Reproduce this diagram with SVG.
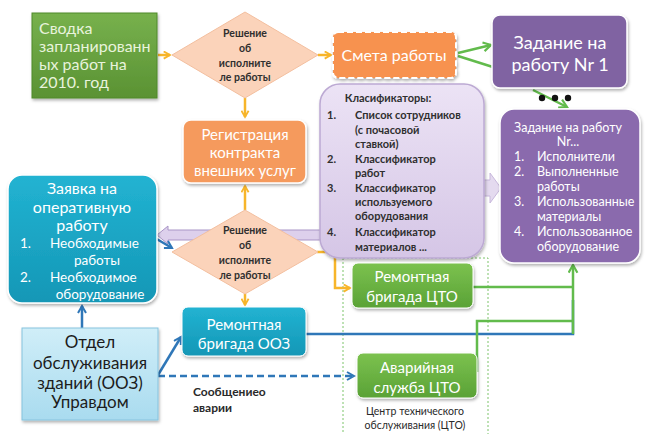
<svg xmlns="http://www.w3.org/2000/svg" width="647" height="434" viewBox="0 0 647 434">
<style>
text{font-family:Lato,"Open Sans","Noto Sans",sans-serif}
.w{fill:#ffffff}
.c{text-anchor:middle}
.dk{fill:#2f2f2f;font-weight:bold}
.yl{stroke:#f7b52a;stroke-width:2.5;fill:none}
.bl{stroke:#2f77b8;stroke-width:2.5;fill:none}
.gl{stroke:#62bb4c;stroke-width:2.5;fill:none}
</style>
<defs>
<filter id="sh" x="-10%" y="-10%" width="125%" height="130%"><feDropShadow dx="1" dy="2" stdDeviation="1.5" flood-color="#000" flood-opacity="0.3"/></filter>
<linearGradient id="gG" x1="0" y1="0" x2="0" y2="1"><stop offset="0" stop-color="#77b14d"/><stop offset="1" stop-color="#5a9233"/></linearGradient>
<linearGradient id="gC" x1="0" y1="0" x2="0" y2="1"><stop offset="0" stop-color="#7cc24f"/><stop offset="1" stop-color="#5aa236"/></linearGradient>
<linearGradient id="gT" x1="0" y1="0" x2="0" y2="1"><stop offset="0" stop-color="#22b3d2"/><stop offset="1" stop-color="#1497b6"/></linearGradient>
<linearGradient id="gL" x1="0" y1="0" x2="0" y2="1"><stop offset="0" stop-color="#d0eef8"/><stop offset="1" stop-color="#a9dbef"/></linearGradient>
<linearGradient id="gV" x1="0" y1="0" x2="0" y2="1"><stop offset="0" stop-color="#ece3f5"/><stop offset="1" stop-color="#d5c6e6"/></linearGradient>
<marker id="ay" viewBox="0 0 10 10" refX="8" refY="5" markerWidth="9" markerHeight="9" markerUnits="userSpaceOnUse" orient="auto"><path d="M1,1 L8,5 L1,9" fill="none" stroke="#f7b52a" stroke-width="2"/></marker>
<marker id="ab" viewBox="0 0 10 10" refX="8" refY="5" markerWidth="10" markerHeight="10" markerUnits="userSpaceOnUse" orient="auto"><path d="M1,1 L8,5 L1,9" fill="none" stroke="#2f77b8" stroke-width="2"/></marker>
<marker id="ag" viewBox="0 0 10 10" refX="8" refY="5" markerWidth="11" markerHeight="11" markerUnits="userSpaceOnUse" orient="auto"><path d="M1,1 L8,5 L1,9" fill="none" stroke="#62bb4c" stroke-width="2"/></marker>
</defs>
<rect width="647" height="434" fill="#ffffff"/>

<g id="connectors">
<rect x="343" y="258" width="145" height="190" fill="none" stroke="#7dc46a" stroke-width="1" stroke-dasharray="2,2"/>
<polygon points="157,235 168,226 168,230 330,230 330,240 168,240 168,244" fill="#ddd0ec" stroke="#a995c6" stroke-width="1"/>
<polygon points="482,180 490,180 490,173 501,188 490,203 490,196 482,196" fill="#e4daef" stroke="#c8b8dc" stroke-width="1"/>
<path class="yl" d="M158,55 L170,55" marker-end="url(#ay)"/>
<path class="yl" d="M318,55 L331,55" marker-end="url(#ay)"/>
<path class="yl" d="M245,98 L245,117" marker-end="url(#ay)"/>
<path class="yl" d="M245,210 L245,186" marker-end="url(#ay)"/>
<path class="yl" d="M245,294 L245,305" marker-end="url(#ay)"/>
<path class="yl" d="M317,252 L335,252 L335,288 L350,288" marker-end="url(#ay)"/>
<path class="gl" d="M458,53 L491,45" marker-end="url(#ag)"/>
<path class="gl" d="M458,56 L496,68"/>
<path class="gl" d="M533,90 L567,107" marker-end="url(#ag)"/>
<path class="bl" d="M155,238 L172,248" marker-end="url(#ab)"/>
<path class="bl" d="M82,328 L82,306" marker-end="url(#ab)"/>
<path class="bl" d="M158,375 L181,337" marker-end="url(#ab)"/>
<path class="bl" d="M158,376 L354,376" stroke-dasharray="7,4" marker-end="url(#ab)"/>
<path class="bl" d="M305,334 L573,334 L573,300"/>
<path class="gl" d="M473,287 L573,287"/>
<path class="gl" d="M477,372 L477,321 L573,321"/>
<path class="gl" d="M573,334 L573,265" marker-end="url(#ag)"/>
<circle cx="542" cy="98" r="3.2" fill="#111"/>
<circle cx="555" cy="98" r="3.2" fill="#111"/>
<circle cx="568" cy="98" r="3.2" fill="#111"/>
</g>

<g id="svodka">
<rect x="32" y="13" width="125" height="85" fill="url(#gG)" stroke="#4f8a2a" stroke-width="1" filter="url(#sh)"/>
<text x="39" y="34" font-size="16" fill="#e8f3dc">Сводка</text>
<text x="39" y="52" font-size="16" fill="#e8f3dc">запланированн</text>
<text x="39" y="70" font-size="16" fill="#e8f3dc">ых работ на</text>
<text x="39" y="88" font-size="16" fill="#e8f3dc">2010. год</text>
</g>

<g id="decision1">
<polygon points="245,12 318,55 245,98 172,55" fill="#fbd3ba" stroke="#f3bf9f" stroke-width="1"/>
<text class="c dk" x="245" y="37" font-size="10.5">Решение</text>
<text class="c dk" x="245" y="52" font-size="10.5">об</text>
<text class="c dk" x="245" y="67" font-size="10.5">исполните</text>
<text class="c dk" x="245" y="81" font-size="10.5">ле работы</text>
</g>

<g id="smeta">
<rect x="333" y="32" width="123" height="46" rx="5" fill="#f7924f" stroke="#ffffff" stroke-width="2" stroke-dasharray="6,3" filter="url(#sh)"/>
<text class="c w" x="394" y="61" font-size="16">Смета работы</text>
</g>

<g id="zadanie1">
<rect x="492" y="15" width="135" height="73" rx="8" fill="#8064a2" stroke="#ffffff" stroke-width="1.5" filter="url(#sh)"/>
<text class="c w" x="560" y="49" font-size="18">Задание на</text>
<text class="c w" x="560" y="71" font-size="18">работу Nr 1</text>
</g>

<g id="registracia">
<rect x="183" y="120" width="123" height="63" rx="8" fill="#f59a5d" stroke="#ffffff" stroke-width="1.5" filter="url(#sh)"/>
<text class="c w" x="245" y="140" font-size="15">Регистрация</text>
<text class="c w" x="245" y="158" font-size="15">контракта</text>
<text class="c w" x="245" y="176" font-size="15">внешних услуг</text>
</g>

<g id="klassifikatory">
<rect x="320" y="84" width="164" height="174" rx="20" fill="url(#gV)" stroke="#bca9d3" stroke-width="1.5" filter="url(#sh)"/>
<text class="c dk" x="388" y="102" font-size="11">Класификаторы:</text>
<text class="dk" x="327" y="119" font-size="11">1.</text>
<text class="dk" x="355" y="119" font-size="11">Список сотрудников</text>
<text class="dk" x="355" y="134" font-size="11">(с почасовой</text>
<text class="dk" x="355" y="148" font-size="11">ставкой)</text>
<text class="dk" x="327" y="163" font-size="11">2.</text>
<text class="dk" x="355" y="163" font-size="11">Классификатор</text>
<text class="dk" x="355" y="177" font-size="11">работ</text>
<text class="dk" x="327" y="192" font-size="11">3.</text>
<text class="dk" x="355" y="192" font-size="11">Классификатор</text>
<text class="dk" x="355" y="206" font-size="11">используемого</text>
<text class="dk" x="355" y="220" font-size="11">оборудования</text>
<text class="dk" x="327" y="236" font-size="11">4.</text>
<text class="dk" x="355" y="236" font-size="11">Классификатор</text>
<text class="dk" x="355" y="251" font-size="11">материалов ...</text>
</g>

<g id="zadanieN">
<rect x="500" y="109" width="140" height="154" rx="14" fill="#8a6aad" stroke="#ffffff" stroke-width="1.5" filter="url(#sh)"/>
<text class="c w" x="568" y="132" font-size="12.5">Задание на работу</text>
<text class="c w" x="568" y="146" font-size="12.5">Nr...</text>
<text class="w" x="514" y="161" font-size="12.5">1.</text>
<text class="w" x="537" y="161" font-size="12.5">Исполнители</text>
<text class="w" x="514" y="176" font-size="12.5">2.</text>
<text class="w" x="537" y="176" font-size="12.5">Выполненные</text>
<text class="w" x="537" y="191" font-size="12.5">работы</text>
<text class="w" x="514" y="206" font-size="12.5">3.</text>
<text class="w" x="537" y="206" font-size="12.5">Использованные</text>
<text class="w" x="537" y="221" font-size="12.5">материалы</text>
<text class="w" x="514" y="236" font-size="12.5">4.</text>
<text class="w" x="537" y="236" font-size="12.5">Использованное</text>
<text class="w" x="537" y="251" font-size="12.5">оборудование</text>
</g>

<g id="zayavka">
<rect x="8" y="175" width="149" height="128" rx="14" fill="url(#gT)" stroke="#ffffff" stroke-width="1.5" filter="url(#sh)"/>
<text class="c w" x="82" y="194" font-size="16">Заявка на</text>
<text class="c w" x="82" y="213" font-size="16">оперативную</text>
<text class="c w" x="82" y="231" font-size="16">работу</text>
<text class="w" x="20" y="248" font-size="13.5">1.</text>
<text class="w" x="50" y="248" font-size="13.5">Необходимые</text>
<text class="c w" x="97" y="265" font-size="13.5">работы</text>
<text class="w" x="20" y="282" font-size="13.5">2.</text>
<text class="w" x="50" y="282" font-size="13.5">Необходимое</text>
<text class="c w" x="100" y="299" font-size="13.5">оборудование</text>
</g>

<g id="decision2">
<polygon points="245,210 318,252 245,294 172,252" fill="#fbd3ba" stroke="#f3bf9f" stroke-width="1"/>
<text class="c dk" x="245" y="234" font-size="10.5">Решение</text>
<text class="c dk" x="245" y="249" font-size="10.5">об</text>
<text class="c dk" x="245" y="264" font-size="10.5">исполните</text>
<text class="c dk" x="245" y="279" font-size="10.5">ле работы</text>
</g>

<g id="remont-cto">
<rect x="352" y="263" width="121" height="45" rx="6" fill="url(#gC)" stroke="#ffffff" stroke-width="1" filter="url(#sh)"/>
<text class="c w" x="412" y="282" font-size="15">Ремонтная</text>
<text class="c w" x="412" y="302" font-size="15">бригада ЦТО</text>
</g>

<g id="remont-ooz">
<rect x="182" y="307" width="124" height="49" rx="6" fill="url(#gT)" stroke="#ffffff" stroke-width="1" filter="url(#sh)"/>
<text class="c w" x="244" y="330" font-size="15">Ремонтная</text>
<text class="c w" x="244" y="349" font-size="15">бригада ООЗ</text>
</g>

<g id="otdel">
<rect x="22" y="328" width="136" height="92" fill="url(#gL)" stroke="#86c3de" stroke-width="1" filter="url(#sh)"/>
<text class="c" x="90" y="348" font-size="17" fill="#1c1c1c">Отдел</text>
<text class="c" x="90" y="369" font-size="17" fill="#1c1c1c">обслуживания</text>
<text class="c" x="90" y="389" font-size="17" fill="#1c1c1c">зданий (ООЗ)</text>
<text class="c" x="90" y="408" font-size="17" fill="#1c1c1c">Управдом</text>
</g>

<g id="avaria">
<rect x="357" y="353" width="120" height="45" rx="6" fill="url(#gC)" stroke="#ffffff" stroke-width="1" filter="url(#sh)"/>
<text class="c w" x="417" y="373" font-size="15">Аварийная</text>
<text class="c w" x="417" y="393" font-size="15">служба ЦТО</text>
</g>

<g id="labels">
<text x="193" y="396" font-size="12" fill="#2a2a2a" font-weight="bold">Сообщениео</text>
<text x="193" y="412" font-size="12" fill="#2a2a2a" font-weight="bold">аварии</text>
<text class="c" x="415" y="415" font-size="10.5" fill="#2a2a2a">Центр технического</text>
<text class="c" x="415" y="429" font-size="10.5" fill="#2a2a2a">обслуживания (ЦТО)</text>
</g>
</svg>
